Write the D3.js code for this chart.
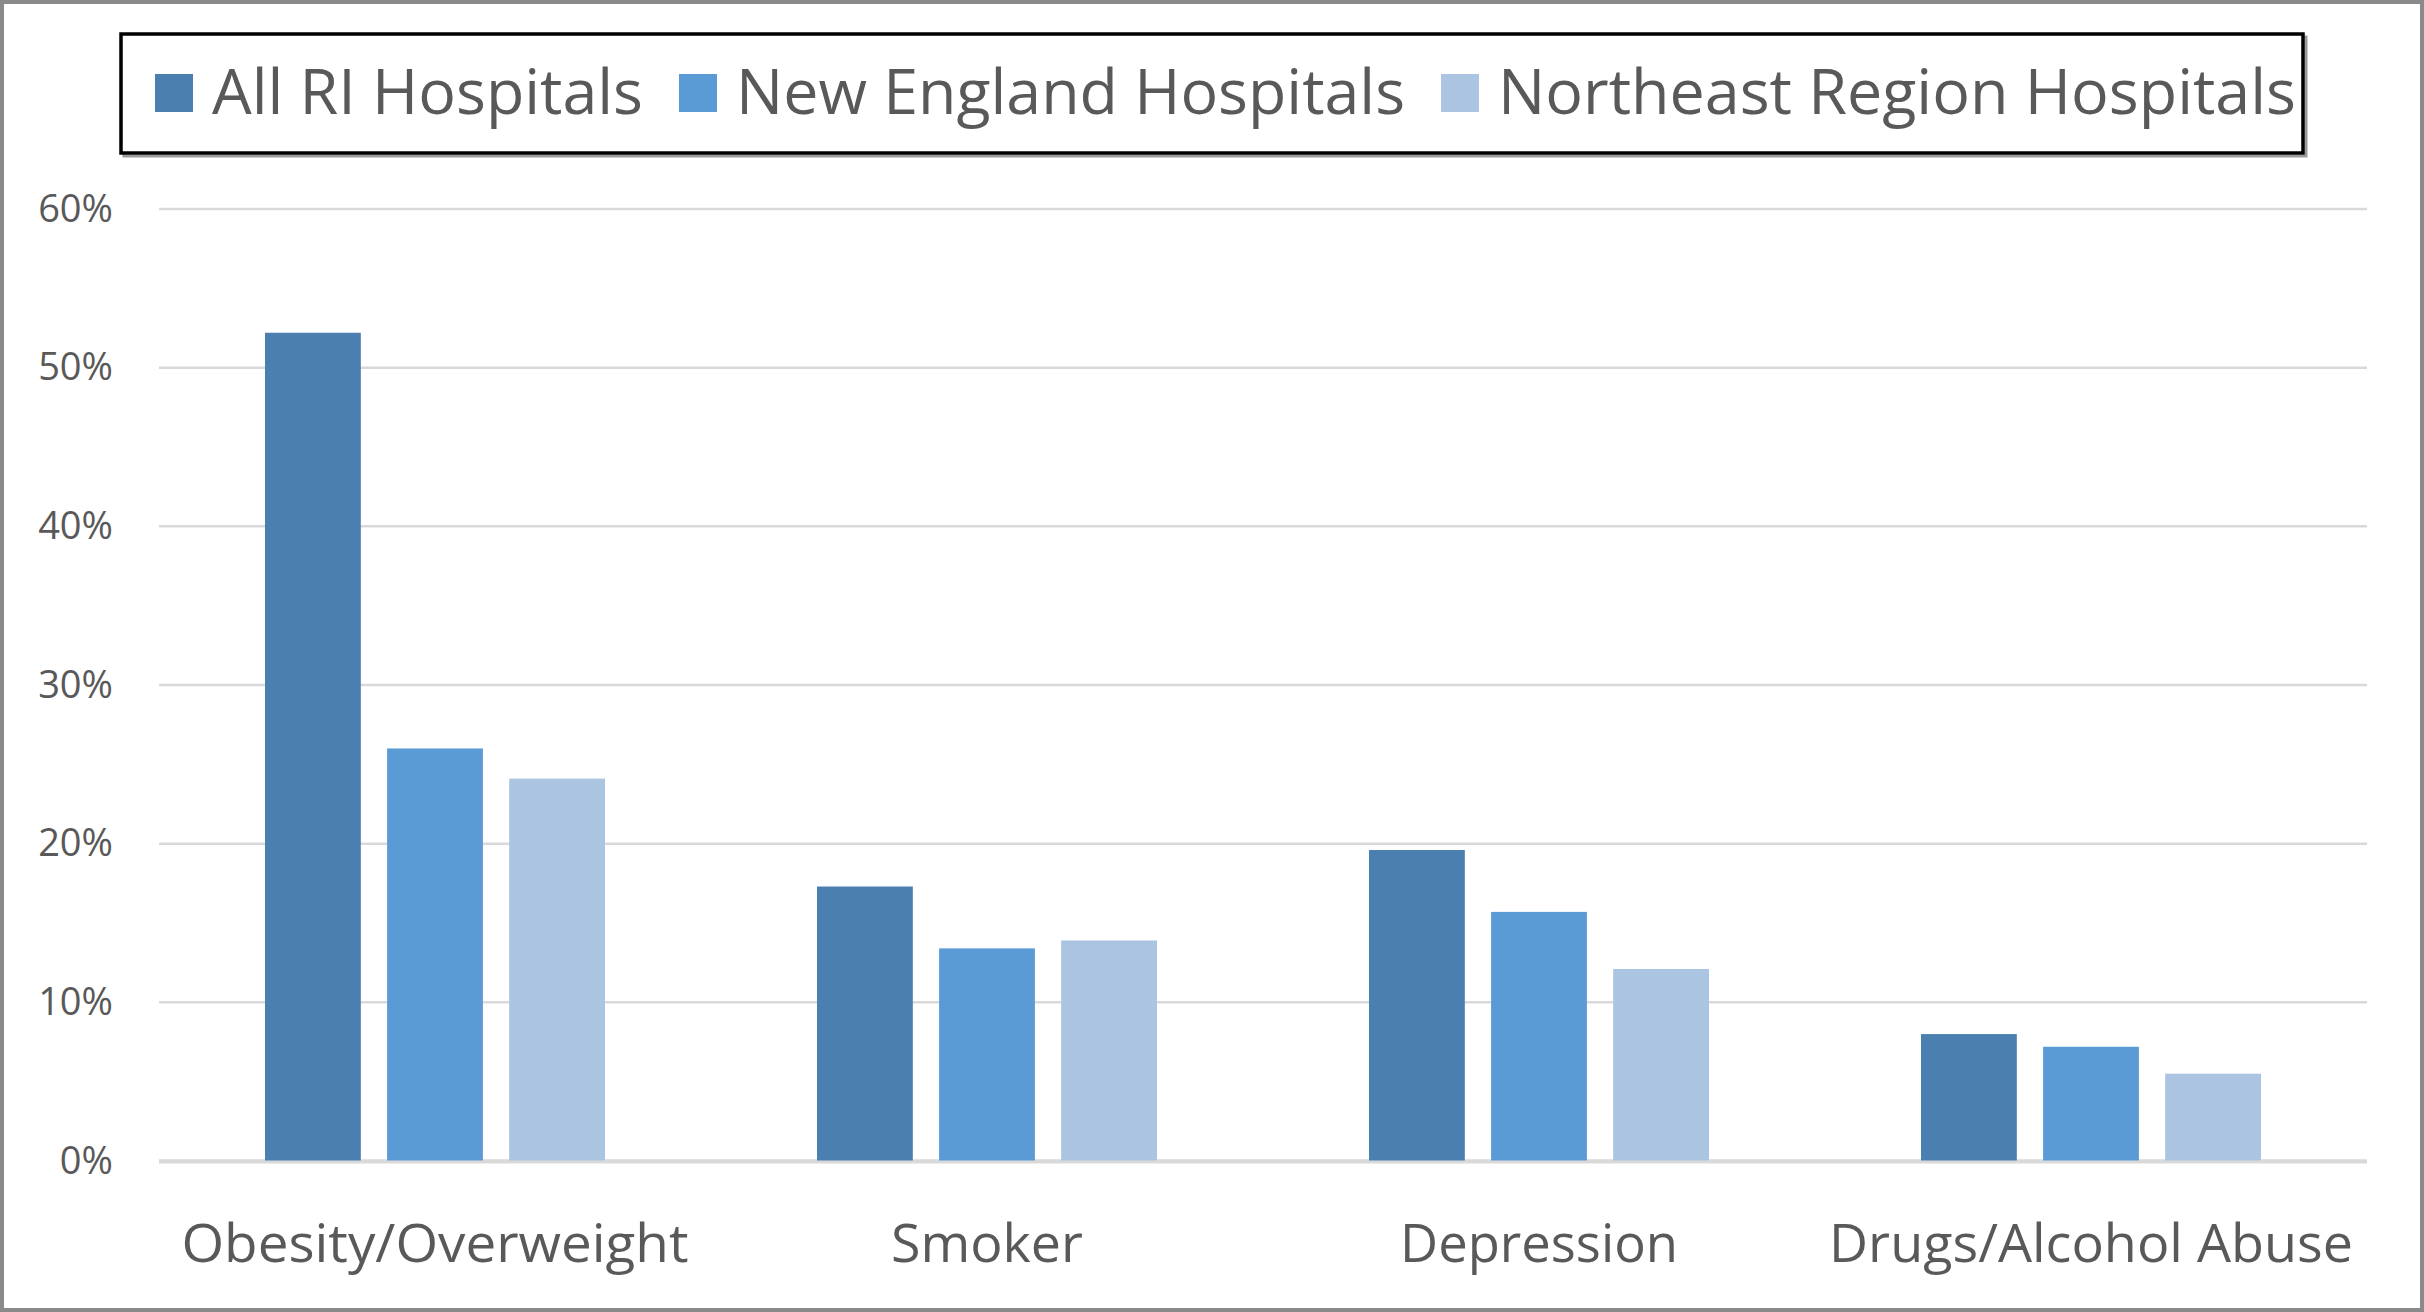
<!DOCTYPE html>
<html>
<head>
<meta charset="utf-8">
<script src="https://cdn.jsdelivr.net/npm/d3@7"></script>
<style>
  html, body { margin: 0; padding: 0; background: #ffffff; }
  svg { display: block; }
  text { font-family: "Open Sans", "Noto Sans", sans-serif; fill: #595959; }
</style>
</head>
<body>
<svg id="chart" width="2424" height="1312"></svg>
<script>
// ---- data ----
const categories = ["Obesity/Overweight", "Smoker", "Depression", "Drugs/Alcohol Abuse"];
const seriesNames = ["All RI Hospitals", "New England Hospitals", "Northeast Region Hospitals"];
const riValues  = [52.2, 17.3, 19.6, 8.0];
const neValues  = [26.0, 13.4, 15.7, 7.2];
const nerValues = [24.1, 13.9, 12.1, 5.5];
const yTickValues = [0, 10, 20, 30, 40, 50, 60];
const seriesColors = ["#4a7fb0", "#5b9bd5", "#abc4e2"];

const seriesValues = [riValues, neValues, nerValues];

// ---- layout ----
const W = 2424, H = 1312;
const plot = { left: 159, right: 2367, top: 209, bottom: 1161 };

const svg = d3.select("#chart");

// outer border
svg.append("rect")
  .attr("x", 2).attr("y", 2).attr("width", W - 4).attr("height", H - 4)
  .attr("fill", "#ffffff").attr("stroke", "#8a8a8a").attr("stroke-width", 4);

// scales
const y = d3.scaleLinear().domain([0, 60]).range([plot.bottom, plot.top]);
const x0 = d3.scaleBand().domain(categories).range([plot.left, plot.right]).paddingInner(0).paddingOuter(0);
const step = x0.step();
const groupInset = 106;
const x1 = d3.scaleBand().domain(seriesNames).range([groupInset, step - groupInset])
  .paddingInner(17 / 79).paddingOuter(0);

// gridlines
const grid = svg.append("g");
grid.selectAll("line").data(yTickValues).join("line")
  .attr("x1", plot.left).attr("x2", plot.right)
  .attr("y1", d => y(d)).attr("y2", d => y(d))
  .attr("stroke", "#d9d9d9")
  .attr("stroke-width", d => d === 0 ? 3.5 : 2.5);

// y axis via d3.axisLeft (tick labels only)
const yAxis = d3.axisLeft(y).tickValues(yTickValues).tickFormat(d => d + "%").tickSize(0).tickPadding(0);
const yg = svg.append("g").attr("transform", `translate(113,0)`).call(yAxis);
yg.select(".domain").remove();
yg.selectAll("text")
  .attr("font-size", 38)
  .attr("font-family", "Open Sans, Noto Sans, sans-serif")
  .style("fill", "#595959");

// bars
const groups = svg.append("g").selectAll("g").data(categories).join("g")
  .attr("transform", d => `translate(${x0(d)},0)`);
groups.selectAll("rect")
  .data((c, ci) => seriesNames.map((s, si) => ({ s, si, v: seriesValues[si][ci] })))
  .join("rect")
  .attr("x", d => x1(d.s))
  .attr("width", x1.bandwidth())
  .attr("y", d => y(d.v))
  .attr("height", d => y(0) - y(d.v))
  .attr("fill", d => seriesColors[d.si]);

// redraw baseline on top of bars
svg.append("line")
  .attr("x1", plot.left).attr("x2", plot.right)
  .attr("y1", y(0) + 1).attr("y2", y(0) + 1)
  .attr("stroke", "#d9d9d9").attr("stroke-width", 3);

// x axis labels
const xLabelWidths = [507, 192, 278, 524];
const xAxis = d3.axisBottom(x0).tickSize(0).tickPadding(0);
const xg = svg.append("g").attr("transform", `translate(0,${plot.bottom})`).call(xAxis);
xg.select(".domain").remove();
xg.selectAll("text")
  .attr("y", 101)
  .attr("dy", null)
  .attr("font-size", 53)
  .attr("font-family", "Open Sans, Noto Sans, sans-serif")
  .style("fill", "#595959")
  .attr("textLength", (d, i) => xLabelWidths[i])
  .attr("lengthAdjust", "spacingAndGlyphs");

// legend
const legendBox = { x: 121, y: 34, w: 2182, h: 119 };
svg.append("rect")
  .attr("x", legendBox.x + 3).attr("y", legendBox.y + 3)
  .attr("width", legendBox.w).attr("height", legendBox.h)
  .attr("fill", "none").attr("stroke", "#9a9a9a").attr("stroke-width", 3);
svg.append("rect")
  .attr("x", legendBox.x).attr("y", legendBox.y)
  .attr("width", legendBox.w).attr("height", legendBox.h)
  .attr("fill", "#ffffff").attr("stroke", "#000000").attr("stroke-width", 3.5);

const legendTextWidths = [431, 669, 798];
let lx = 155;
const legend = svg.append("g");
seriesNames.forEach((name, i) => {
  legend.append("rect")
    .attr("x", lx).attr("y", 74).attr("width", 38).attr("height", 38)
    .attr("fill", seriesColors[i]);
  legend.append("text")
    .attr("x", lx + 57).attr("y", 114)
    .attr("font-size", 62)
    .attr("textLength", legendTextWidths[i])
    .attr("lengthAdjust", "spacingAndGlyphs")
    .text(name);
  lx += 57 + legendTextWidths[i] + 36;
});
</script>
</body>
</html>
